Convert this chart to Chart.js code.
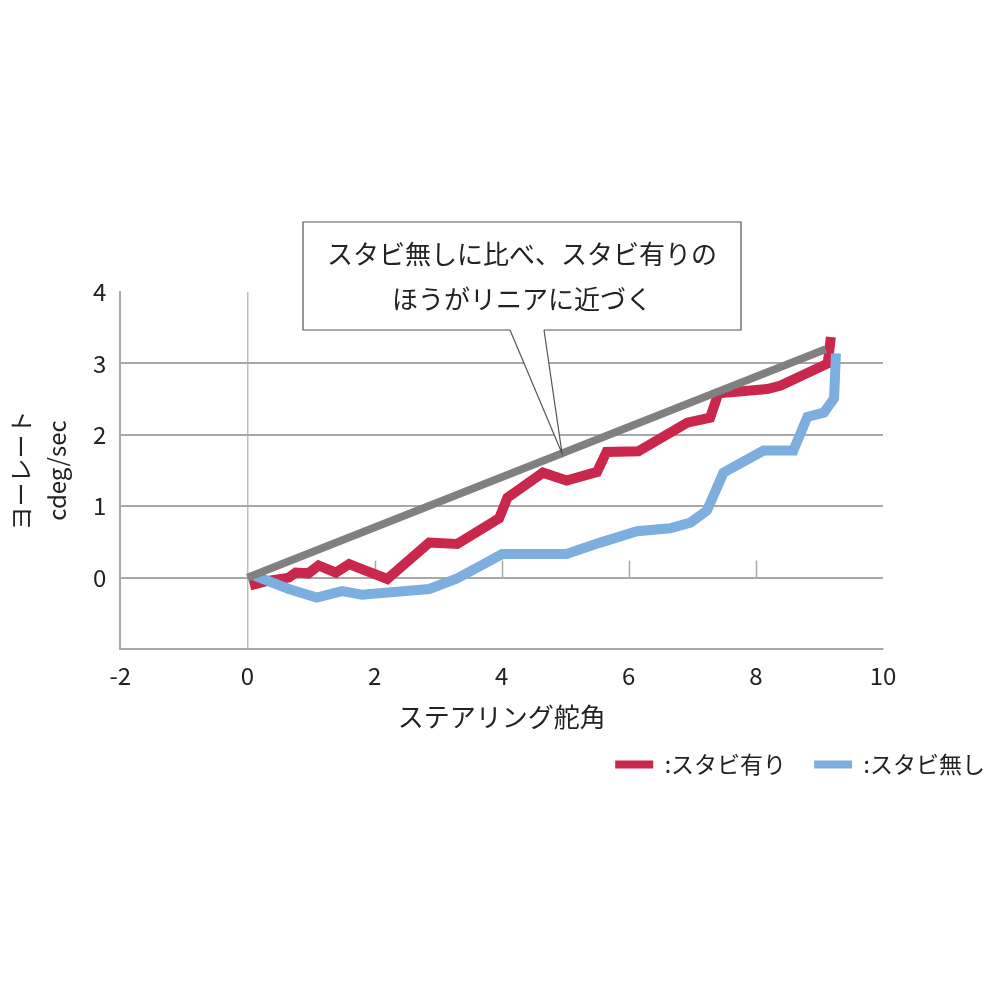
<!DOCTYPE html>
<html>
<head>
  <title>ヨーレート</title>
  <script src="https://cdn.jsdelivr.net/npm/chart.js@4"></script>
  <style>
    html, body { margin: 0; padding: 0; background: #fff; }
    #wrap { width: 1000px; height: 1000px; }
  </style>
</head>
<body>
  <div id="wrap">
    <canvas id="myChart" width="1000" height="1000"></canvas>
  </div>

  <script>
    // steering angle (x) / yaw rate (y)
    const stabiOnX  = [0.04, 0.3, 0.65, 0.76, 0.96, 1.12, 1.39, 1.6, 1.8, 2.2, 2.86, 3.3, 3.96, 4.09, 4.65, 5.02, 5.5, 5.65, 6.15, 6.92, 7.28, 7.41, 8.18, 8.39, 9.13, 9.18];
    const stabiOnY  = [-0.11, -0.05, 0.0, 0.07, 0.06, 0.17, 0.07, 0.19, 0.12, -0.02, 0.49, 0.47, 0.83, 1.12, 1.47, 1.36, 1.48, 1.76, 1.77, 2.17, 2.24, 2.58, 2.64, 2.69, 3.0, 3.37];
    const stabiOffX = [0.1, 0.65, 1.09, 1.49, 1.8, 2.86, 3.28, 4.01, 5.02, 5.55, 6.13, 6.65, 6.97, 7.23, 7.49, 8.12, 8.59, 8.81, 9.07, 9.23, 9.26];
    const stabiOffY = [0.03, -0.16, -0.28, -0.19, -0.24, -0.16, -0.02, 0.33, 0.33, 0.49, 0.65, 0.69, 0.77, 0.94, 1.47, 1.78, 1.78, 2.25, 2.31, 2.51, 3.14];
    const linearX   = [0, 9.1];
    const linearY   = [0, 3.2];

    const seriesLabels = [':スタビ有り', ':スタビ無し'];
    const xTitle = 'ステアリング舵角';
    const yTitle = ['ヨーレート', 'cdeg/sec'];
    const calloutText = ['スタビ無しに比べ、スタビ有りの', 'ほうがリニアに近づく'];
    const calloutAnchor = { x: 4.95, y: 1.74 };
    const minorTickValues = [2, 4, 6, 8];

    const FONT = "'Noto Sans CJK JP', 'Noto Sans', sans-serif";
    const GRID = '#a8a8a8';

    function toPoints(xs, ys) {
      return xs.map((x, i) => ({ x: x, y: ys[i] }));
    }

    // short ticks standing up from the zero line
    const zeroTicks = {
      id: 'zeroTicks',
      beforeDatasetsDraw(chart) {
        const { ctx, scales: { x, y } } = chart;
        const y0 = y.getPixelForValue(0);
        ctx.save();
        ctx.strokeStyle = GRID;
        ctx.lineWidth = 1.5;
        minorTickValues.forEach((v) => {
          const px = Math.round(x.getPixelForValue(v)) + 0.5;
          ctx.beginPath();
          ctx.moveTo(px, y0);
          ctx.lineTo(px, y0 - 17);
          ctx.stroke();
        });
        ctx.restore();
      }
    };

    // speech-bubble note pointing at the grey line
    const callout = {
      id: 'callout',
      afterDatasetsDraw(chart) {
        const { ctx, scales: { x, y } } = chart;
        const box = { left: 303, top: 222, right: 741, bottom: 330 };
        const tip = { x: x.getPixelForValue(calloutAnchor.x), y: y.getPixelForValue(calloutAnchor.y) };
        const baseL = 510, baseR = 544;
        ctx.save();
        ctx.fillStyle = '#fff';
        ctx.fillRect(box.left, box.top, box.right - box.left, box.bottom - box.top);
        ctx.beginPath();
        ctx.moveTo(baseL, box.bottom - 1);
        ctx.lineTo(tip.x, tip.y);
        ctx.lineTo(baseR, box.bottom - 1);
        ctx.closePath();
        ctx.fill();

        ctx.strokeStyle = '#555';
        ctx.lineWidth = 1.2;
        ctx.beginPath();
        ctx.moveTo(baseL, box.bottom);
        ctx.lineTo(box.left, box.bottom);
        ctx.lineTo(box.left, box.top);
        ctx.lineTo(box.right, box.top);
        ctx.lineTo(box.right, box.bottom);
        ctx.lineTo(baseR, box.bottom);
        ctx.stroke();
        ctx.beginPath();
        ctx.moveTo(baseL, box.bottom);
        ctx.lineTo(tip.x, tip.y);
        ctx.lineTo(baseR, box.bottom);
        ctx.stroke();

        ctx.fillStyle = '#222';
        ctx.font = '26px ' + FONT;
        ctx.textAlign = 'center';
        ctx.textBaseline = 'middle';
        const cx = (box.left + box.right) / 2;
        ctx.fillText(calloutText[0], cx, 254);
        ctx.fillText(calloutText[1], cx, 299);
        ctx.restore();
      }
    };

    const ctx = document.getElementById('myChart').getContext('2d');
    const myChart = new Chart(ctx, {
      type: 'line',
      data: {
        datasets: [
          {
            label: seriesLabels[0],
            data: toPoints(stabiOnX, stabiOnY),
            borderColor: '#c9274b',
            backgroundColor: '#c9274b',
            borderWidth: 10,
            order: 3
          }, {
            label: seriesLabels[1],
            data: toPoints(stabiOffX, stabiOffY),
            borderColor: '#7cafdf',
            backgroundColor: '#7cafdf',
            borderWidth: 10,
            order: 2
          }, {
            label: 'linear',
            data: toPoints(linearX, linearY),
            borderColor: '#808080',
            backgroundColor: '#808080',
            borderWidth: 8,
            order: 1
          }
        ]
      },
      options: {
        responsive: false,
        animation: false,
        elements: {
          point: { radius: 0, hoverRadius: 0 },
          line: { tension: 0, borderJoinStyle: 'miter', borderCapStyle: 'butt' }
        },
        layout: { padding: { top: 292, bottom: 214, left: 3, right: -13 } },
        plugins: {
          tooltip: { enabled: false },
          legend: {
            position: 'bottom',
            align: 'end',
            labels: {
              font: { family: FONT, size: 23 },
              color: '#222',
              boxWidth: 38,
              boxHeight: 8,
              padding: 28,
              filter: (item) => item.datasetIndex < 2,
              sort: (a, b) => a.datasetIndex - b.datasetIndex,
              generateLabels(chart) {
                return Chart.defaults.plugins.legend.labels.generateLabels(chart).map((item) => {
                  item.lineWidth = 0;
                  return item;
                });
              }
            }
          }
        },
        scales: {
          x: {
            type: 'linear',
            min: -2,
            max: 10,
            ticks: {
              stepSize: 2,
              padding: 12,
              color: '#222',
              font: { family: FONT, size: 24 }
            },
            grid: {
              drawTicks: false,
              lineWidth: 1.5,
              color: (c) => (c.tick && c.tick.value === 0 ? '#bdbdbd' : 'rgba(0,0,0,0)')
            },
            border: { display: true, color: GRID, width: 2 },
            title: {
              display: true,
              text: xTitle,
              color: '#222',
              font: { family: FONT, size: 26 },
              padding: { top: 0, bottom: -8 }
            }
          },
          y: {
            type: 'linear',
            min: -1,
            max: 4,
            ticks: {
              stepSize: 1,
              padding: 14,
              color: '#222',
              font: { family: FONT, size: 24 },
              callback: (v) => (v < 0 ? '' : v)
            },
            grid: {
              drawTicks: false,
              lineWidth: 2,
              color: (c) => (c.tick && c.tick.value >= 4 ? 'rgba(0,0,0,0)' : GRID)
            },
            border: { display: true, color: GRID, width: 2 },
            title: {
              display: true,
              text: yTitle,
              color: '#222',
              font: { family: FONT, size: 24, lineHeight: 1.5 },
              padding: { top: 0, bottom: 4 }
            }
          },
          yRight: {
            type: 'linear',
            position: 'right',
            display: true,
            ticks: { display: false },
            grid: { display: false, drawTicks: false },
            border: { display: false },
            afterFit: (scale) => { scale.width = 130; }
          }
        }
      },
      plugins: [zeroTicks, callout]
    });
  </script>
</body>
</html>
